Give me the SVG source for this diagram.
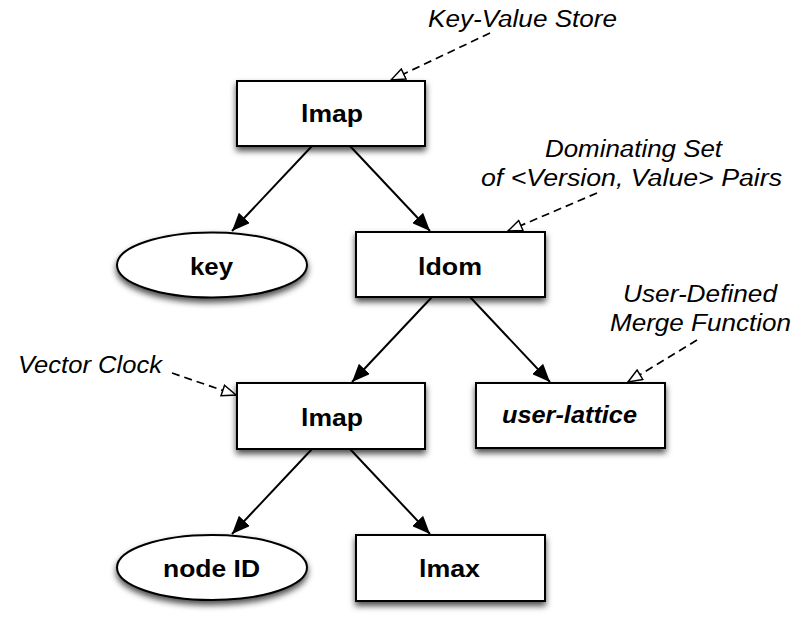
<svg xmlns="http://www.w3.org/2000/svg" width="801" height="633" viewBox="0 0 801 633">
<style>
  .node { fill: #ffffff; stroke: #000000; stroke-width: 2; filter: url(#shadow); }
  .lbl { font-family: "Liberation Sans", Arial, Helvetica, sans-serif; font-weight: bold; font-size: 24px; fill: #000; }
  .note { font-family: "Liberation Sans", Arial, Helvetica, sans-serif; font-style: italic; font-size: 23px; fill: #000; }
  .edge { stroke: #000; stroke-width: 2; fill: none; marker-end: url(#arrow); }
  .dash { stroke: #000; stroke-width: 1.7; fill: none; stroke-dasharray: 8 5; marker-end: url(#hollow); }
</style>
<defs>
  <filter id="shadow" x="-20%" y="-20%" width="140%" height="170%">
    <feDropShadow dx="0" dy="4" stdDeviation="3" flood-color="#000" flood-opacity="0.7"/>
  </filter>
  <marker id="arrow" markerUnits="userSpaceOnUse" markerWidth="19" markerHeight="15" refX="18" refY="7.5" orient="auto">
    <path d="M0,0 L18,7.5 L0,15 z" fill="#000"/>
  </marker>
  <marker id="hollow" markerUnits="userSpaceOnUse" markerWidth="17" markerHeight="13" refX="15" refY="6.5" orient="auto">
    <path d="M1,1 L15,6.5 L1,12 z" fill="#fff" stroke="#000" stroke-width="1.5"/>
  </marker>
</defs>

<g id="connectors">
  <line class="edge" x1="312" y1="146" x2="232" y2="231"/>
  <line class="edge" x1="350" y1="146" x2="430" y2="231"/>
  <line class="edge" x1="432" y1="297" x2="352" y2="382"/>
  <line class="edge" x1="470" y1="297" x2="550" y2="382"/>
  <line class="edge" x1="312" y1="449" x2="232" y2="534"/>
  <line class="edge" x1="350" y1="449" x2="430" y2="534"/>
  <line class="dash" x1="490" y1="33" x2="391" y2="80"/>
  <line class="dash" x1="597" y1="193" x2="508" y2="231"/>
  <line class="dash" x1="697" y1="340" x2="628" y2="382"/>
  <line class="dash" x1="172" y1="373" x2="236" y2="395"/>
</g>

<g id="lmap-top">
  <rect class="node" x="237" y="81" width="188" height="65"/>
  <text class="lbl" x="301" y="122" textLength="62" lengthAdjust="spacingAndGlyphs">lmap</text>
</g>
<g id="key">
  <ellipse class="node" cx="212" cy="265" rx="95" ry="32.5"/>
  <text class="lbl" x="190" y="275" textLength="43" lengthAdjust="spacingAndGlyphs">key</text>
</g>
<g id="ldom">
  <rect class="node" x="356" y="232" width="189" height="65"/>
  <text class="lbl" x="418" y="275" textLength="64" lengthAdjust="spacingAndGlyphs">ldom</text>
</g>
<g id="lmap-mid">
  <rect class="node" x="237" y="383" width="188" height="66"/>
  <text class="lbl" x="301" y="426" textLength="62" lengthAdjust="spacingAndGlyphs">lmap</text>
</g>
<g id="user-lattice">
  <rect class="node" x="476" y="383" width="189" height="65"/>
  <text class="lbl" x="502" y="423" textLength="135" lengthAdjust="spacingAndGlyphs" font-style="italic">user-lattice</text>
</g>
<g id="node-id">
  <ellipse class="node" cx="212" cy="567.5" rx="95" ry="32.5"/>
  <text class="lbl" x="163" y="577" textLength="97" lengthAdjust="spacingAndGlyphs">node ID</text>
</g>
<g id="lmax">
  <rect class="node" x="356" y="535" width="189" height="66"/>
  <text class="lbl" x="419" y="577" textLength="61" lengthAdjust="spacingAndGlyphs">lmax</text>
</g>

<g id="note-kv">
  <text class="note" x="428" y="27" textLength="189" lengthAdjust="spacingAndGlyphs">Key-Value Store</text>
</g>
<g id="note-dom">
  <text class="note" x="545" y="157" textLength="177" lengthAdjust="spacingAndGlyphs">Dominating Set</text>
  <text class="note" x="481" y="186" textLength="301" lengthAdjust="spacingAndGlyphs">of &lt;Version, Value&gt; Pairs</text>
</g>
<g id="note-vc">
  <text class="note" x="18" y="373" textLength="144" lengthAdjust="spacingAndGlyphs">Vector Clock</text>
</g>
<g id="note-merge">
  <text class="note" x="623" y="302" textLength="154" lengthAdjust="spacingAndGlyphs">User-Defined</text>
  <text class="note" x="610" y="331" textLength="181" lengthAdjust="spacingAndGlyphs">Merge Function</text>
</g>
</svg>
